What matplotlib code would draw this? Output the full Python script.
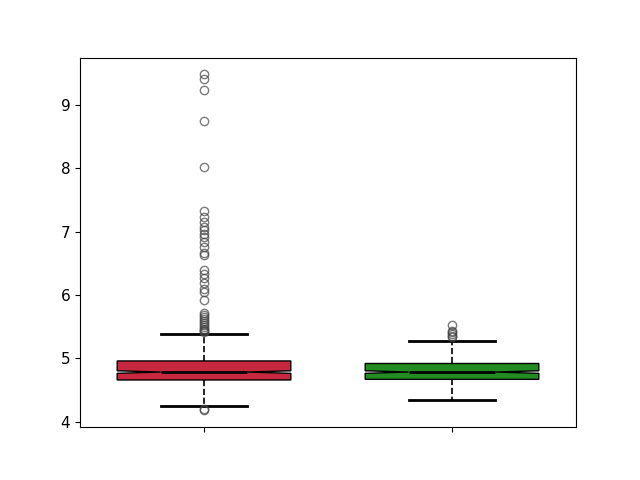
import matplotlib
matplotlib.use("Agg")
import matplotlib.pyplot as plt

# summary stats
labels = ["", ""]
q1 = [4.66, 4.67]
med = [4.785, 4.785]
q3 = [4.96, 4.92]
whislo = [4.25, 4.34]
whishi = [5.38, 5.28]
cilo = [4.765, 4.765]
cihi = [4.805, 4.805]
fliers_red = [9.48, 9.41, 9.23, 8.75, 8.02, 7.33, 7.23, 7.15, 7.08, 7.02, 6.97,
              6.92, 6.84, 6.75, 6.66, 6.63, 6.40, 6.33, 6.27, 6.19, 6.10, 6.04,
              5.92, 5.72, 5.68, 5.65, 5.62, 5.59, 5.56, 5.53, 5.50, 5.47, 5.45,
              5.43, 5.41, 4.18, 4.20]
fliers_green = [5.52, 5.44, 5.41, 5.38, 5.35, 5.33]
colors = ["#c8283f", "#228b22"]

stats = []
for i, fl in enumerate([fliers_red, fliers_green]):
    stats.append(dict(label=labels[i], q1=q1[i], med=med[i], q3=q3[i],
                      whislo=whislo[i], whishi=whishi[i],
                      cilo=cilo[i], cihi=cihi[i], fliers=fl))

fig, ax = plt.subplots(figsize=(6.4, 4.8), dpi=100)
bp = ax.bxp(stats, widths=0.7, shownotches=True, patch_artist=True,
            boxprops=dict(edgecolor="black", linewidth=1),
            whiskerprops=dict(linestyle="--", color="black", linewidth=1.2),
            capprops=dict(color="black", linewidth=2),
            medianprops=dict(color="black", linewidth=2),
            flierprops=dict(marker="o", markerfacecolor="none",
                            markeredgecolor="#444444", alpha=0.7, markersize=6))
for patch, c in zip(bp["boxes"], colors):
    patch.set_facecolor(c)

ax.tick_params(axis="y", labelsize=11)
plt.savefig("out.png")
